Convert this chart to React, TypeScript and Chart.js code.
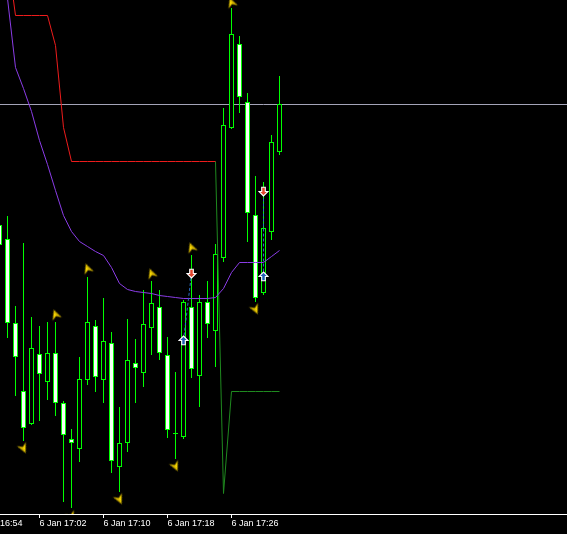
import React, { useEffect, useRef } from 'react';
import { Chart, registerables } from 'chart.js';

Chart.register(...registerables);

// ---- data (1-minute bars, first bar 16:57) ----
const barIdx = Array.from({ length: 36 }, (_, i) => i);

const opens = [1.17050, 1.17022, 1.16854, 1.16718, 1.16652, 1.16792, 1.16736, 1.16794, 1.16694, 1.16622, 1.16602, 1.16740, 1.16848, 1.16740, 1.16814, 1.16566, 1.16614, 1.16774, 1.16754, 1.16844, 1.16886, 1.16790, 1.16634, 1.16626, 1.16886, 1.16748, 1.16896, 1.16838, 1.16984, 1.17244, 1.17412, 1.17296, 1.17070, 1.16914, 1.17036, 1.17196];
const highs = [1.17060, 1.17068, 1.16888, 1.17014, 1.16866, 1.16848, 1.16856, 1.16856, 1.16698, 1.16642, 1.16786, 1.16946, 1.16860, 1.16904, 1.16836, 1.16686, 1.16862, 1.16822, 1.16920, 1.16938, 1.16920, 1.16826, 1.16756, 1.16900, 1.16990, 1.16910, 1.16938, 1.17012, 1.17284, 1.17484, 1.17428, 1.17314, 1.17148, 1.17136, 1.17230, 1.17348];
const lows = [1.17000, 1.16824, 1.16708, 1.16618, 1.16650, 1.16658, 1.16700, 1.16668, 1.16496, 1.16484, 1.16576, 1.16730, 1.16716, 1.16694, 1.16554, 1.16516, 1.16596, 1.16694, 1.16726, 1.16790, 1.16780, 1.16624, 1.16582, 1.16622, 1.16744, 1.16686, 1.16824, 1.16766, 1.16976, 1.17242, 1.17274, 1.17016, 1.16896, 1.16910, 1.17020, 1.17190];
const closes = [1.17010, 1.16854, 1.16786, 1.16644, 1.16804, 1.16752, 1.16794, 1.16694, 1.16630, 1.16614, 1.16742, 1.16856, 1.16746, 1.16818, 1.16578, 1.16614, 1.16780, 1.16764, 1.16852, 1.16894, 1.16794, 1.16640, 1.16632, 1.16896, 1.16762, 1.16896, 1.16852, 1.16992, 1.17250, 1.17432, 1.17306, 1.17074, 1.16904, 1.17044, 1.17216, 1.17292];

const maLine = [1.17639, 1.17503, 1.17365, 1.17323, 1.17277, 1.17219, 1.17171, 1.17119, 1.17069, 1.17037, 1.17017, 1.17007, 1.16997, 1.16989, 1.16965, 1.16933, 1.16921, 1.16917, 1.16915, 1.16913, 1.16909, 1.16907, 1.16905, 1.16903, 1.16903, 1.16903, 1.16903, 1.16905, 1.16923, 1.16955, 1.16975, 1.16975, 1.16975, 1.16975, 1.16987, 1.16999];

const stopRed: (number | null)[] = [1.17589, 1.17589, 1.17469, 1.17469, 1.17469, 1.17469, 1.17469, 1.17409, 1.17245, 1.17177, 1.17177, 1.17177, 1.17177, 1.17177, 1.17177, 1.17177, 1.17177, 1.17177, 1.17177, 1.17177, 1.17177, 1.17177, 1.17177, 1.17177, 1.17177, 1.17177, 1.17177, 1.17177, null, null, null, null, null, null, null, null];
const stopGreen: (number | null)[] = [null, null, null, null, null, null, null, null, null, null, null, null, null, null, null, null, null, null, null, null, null, null, null, null, null, null, null, 1.17177, 1.16513, 1.16717, 1.16717, 1.16717, 1.16717, 1.16717, 1.16717, 1.16717];

const bidPrice = 1.17291;

const fractalUpBars = [7, 11, 19, 24, 29];
const fractalUpPrices = [1.16871, 1.16963, 1.16953, 1.17005, 1.17495];
const fractalDownBars = [3, 9, 15, 22, 32];
const fractalDownPrices = [1.16603, 1.16467, 1.16501, 1.16567, 1.16881];

const buyBars = [23, 33];
const buyPrices = [1.16819, 1.16947];
const closeBars = [24, 33];
const closePrices = [1.16953, 1.17117];

const tickBars = [-3, 5, 13, 21, 29];
const tickLabels = ['6 Jan 16:54', '6 Jan 17:02', '6 Jan 17:10', '6 Jan 17:18', '6 Jan 17:26'];

// ---- view ----
const CANVAS_W = 607;
const CANVAS_H = 534;
const SHIFT = 40;
const X_MIN = -4.9375;
const X_MAX = X_MIN + CANVAS_W / 8;
const Y_MAX = 1.175;
const Y_MIN = 1.175 - 514 * 0.00002;

const GREEN = '#00ff00';

function fractalArrow(): HTMLCanvasElement {
  const c = document.createElement('canvas');
  c.width = 11;
  c.height = 11;
  const g = c.getContext('2d')!;
  g.translate(5.5, 5.5);
  const path = () => {
    g.beginPath();
    g.moveTo(0, -5);
    g.lineTo(4.6, 4.6);
    g.lineTo(0, 1.8);
    g.lineTo(-4.6, 4.6);
    g.closePath();
  };
  path();
  g.fillStyle = '#ffdc00';
  g.fill();
  g.beginPath();
  g.moveTo(0, -5);
  g.lineTo(4.6, 4.6);
  g.lineTo(0, 1.8);
  g.closePath();
  g.fillStyle = '#d4b400';
  g.fill();
  path();
  g.strokeStyle = '#5a4c00';
  g.lineWidth = 0.8;
  g.stroke();
  return c;
}

function tradeArrow(up: boolean, fill: string): HTMLCanvasElement {
  const c = document.createElement('canvas');
  c.width = 11;
  c.height = 11;
  const g = c.getContext('2d')!;
  g.translate(5.5, 5.5);
  if (!up) g.rotate(Math.PI);
  g.beginPath();
  g.moveTo(0, -4.5);
  g.lineTo(4.5, 0);
  g.lineTo(1.8, 0);
  g.lineTo(1.8, 4.3);
  g.lineTo(-1.8, 4.3);
  g.lineTo(-1.8, 0);
  g.lineTo(-4.5, 0);
  g.closePath();
  g.fillStyle = fill;
  g.fill();
  g.strokeStyle = '#ffffff';
  g.lineWidth = 1.1;
  g.stroke();
  return c;
}

export default function App() {
  const ref = useRef<HTMLCanvasElement>(null);

  useEffect(() => {
    document.body.style.margin = '0';
    document.body.style.background = '#000';
    document.body.style.overflow = 'hidden';
    const canvas = ref.current!;
    const fractalImg = fractalArrow();
    const buyImg = tradeArrow(true, '#1f5fb4');
    const sellImg = tradeArrow(false, '#e2442c');

    const toPts = (arr: (number | null)[]) =>
      barIdx.filter((i) => arr[i] !== null).map((i) => ({ x: i, y: arr[i] as number }));

    // invisible edge ticks keep the axis from padding itself for label width
    const allTicks = [X_MIN, ...tickBars, X_MAX];
    const labelFor = (v: number) => {
      const k = tickBars.indexOf(v);
      return k >= 0 ? tickLabels[k] : '';
    };

    const chart = new Chart(canvas, {
      type: 'bar',
      data: {
        datasets: [
          {
            type: 'line',
            data: [
              { x: X_MIN, y: bidPrice },
              { x: X_MAX, y: bidPrice },
            ],
            borderColor: '#a4a4b8',
            borderWidth: 1,
            pointRadius: 0,
            pointHoverRadius: 0,
            order: 30,
          } as any,
          {
            type: 'bar',
            data: barIdx.map((i) => ({ x: i, y: [lows[i], highs[i]] })),
            backgroundColor: GREEN,
            borderWidth: 0,
            maxBarThickness: 1,
            grouped: false,
            inflateAmount: 0,
            order: 20,
          } as any,
          {
            type: 'bar',
            data: barIdx.map((i) => ({ x: i, y: [opens[i], closes[i]] })),
            backgroundColor: barIdx.map((i) => (closes[i] > opens[i] ? '#000000' : '#f4fff4')),
            borderColor: GREEN,
            borderWidth: 1,
            borderSkipped: false,
            maxBarThickness: 5,
            grouped: false,
            inflateAmount: 0,
            order: 19,
          } as any,
          {
            type: 'line',
            data: toPts(maLine),
            borderColor: '#8a3ce6',
            borderWidth: 1,
            pointRadius: 0,
            pointHoverRadius: 0,
            order: 10,
          } as any,
          {
            type: 'line',
            data: toPts(stopRed),
            borderColor: '#ee1c1c',
            borderWidth: 1,
            pointRadius: 0,
            pointHoverRadius: 0,
            order: 10,
          } as any,
          {
            type: 'line',
            data: toPts(stopGreen),
            borderColor: '#1f8a1f',
            borderWidth: 1,
            pointRadius: 0,
            pointHoverRadius: 0,
            order: 10,
          } as any,
          ...(buyBars.map((b, k) => ({
            type: 'line',
            data: [
              { x: b, y: buyPrices[k] },
              { x: closeBars[k], y: closePrices[k] },
            ],
            borderColor: '#2c6cc4',
            borderWidth: 1,
            borderDash: [3, 2],
            pointRadius: 0,
            pointHoverRadius: 0,
            order: 5,
          })) as any[]),
          {
            type: 'line',
            data: fractalUpBars.map((b, k) => ({ x: b, y: fractalUpPrices[k] })),
            showLine: false,
            pointStyle: fractalImg,
            pointRotation: -20,
            order: 1,
          } as any,
          {
            type: 'line',
            data: fractalDownBars.map((b, k) => ({ x: b, y: fractalDownPrices[k] })),
            showLine: false,
            pointStyle: fractalImg,
            pointRotation: 155,
            order: 1,
          } as any,
          {
            type: 'line',
            data: buyBars.map((b, k) => ({ x: b, y: buyPrices[k] })),
            showLine: false,
            pointStyle: buyImg,
            order: 1,
          } as any,
          {
            type: 'line',
            data: closeBars.map((b, k) => ({ x: b, y: closePrices[k] })),
            showLine: false,
            pointStyle: sellImg,
            order: 1,
          } as any,
        ],
      },
      options: {
        responsive: false,
        animation: false,
        devicePixelRatio: 1,
        events: [],
        layout: { padding: 0, autoPadding: false },
        plugins: {
          legend: { display: false },
          tooltip: { enabled: false },
          title: { display: false },
        },
        scales: {
          x: {
            type: 'linear',
            position: 'bottom',
            min: X_MIN,
            max: X_MAX,
            offset: false,
            bounds: 'data',
            grid: {
              display: true,
              offset: false,
              drawOnChartArea: false,
              drawTicks: true,
              tickLength: 4,
              color: (ctx: any) =>
                ctx.tick && tickBars.indexOf(ctx.tick.value) >= 0 ? '#ffffff' : 'rgba(0,0,0,0)',
              lineWidth: 1,
            },
            border: { display: true, color: '#ffffff', width: 1 },
            ticks: {
              autoSkip: false,
              maxRotation: 0,
              minRotation: 0,
              align: 'start',
              padding: 0,
              color: '#ffffff',
              font: { family: 'Liberation Sans', size: 9 },
              callback: (v: any) => labelFor(Number(v)),
            },
            afterBuildTicks: (s: any) => {
              s.ticks = allTicks.map((v) => ({ value: v }));
            },
            afterFit: (s: any) => {
              s.height = 20;
            },
          } as any,
          y: {
            type: 'linear',
            display: false,
            min: Y_MIN,
            max: Y_MAX,
            offset: false,
          },
        },
      } as any,
    });
    return () => chart.destroy();
  }, []);

  return (
    <div
      style={{
        position: 'fixed',
        left: -SHIFT,
        top: 0,
        width: CANVAS_W,
        height: CANVAS_H,
        background: '#000',
      }}
    >
      <canvas
        ref={ref}
        width={CANVAS_W}
        height={CANVAS_H}
        style={{ display: 'block', width: CANVAS_W, height: CANVAS_H }}
      />
    </div>
  );
}
